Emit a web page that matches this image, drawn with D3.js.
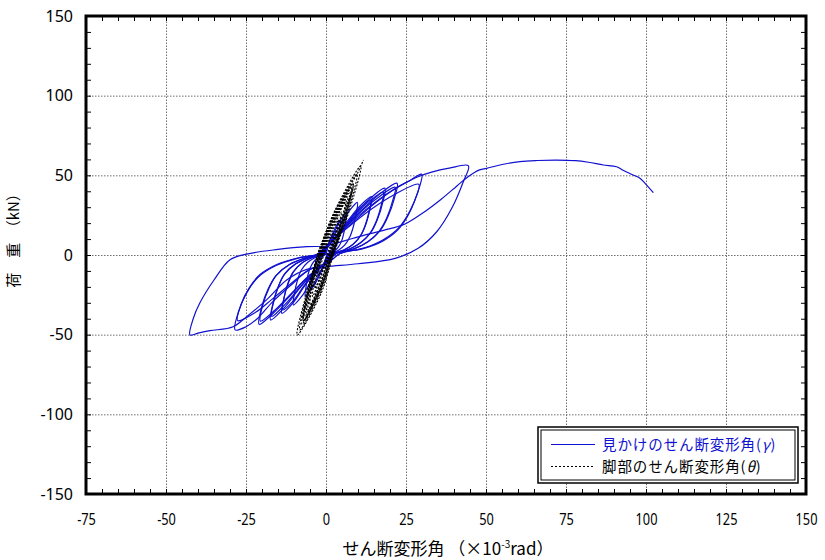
<!DOCTYPE html>
<html>
<head>
<meta charset="utf-8">
<script src="https://cdn.jsdelivr.net/npm/d3@7"></script>
<style>
  body { margin: 0; background: #fff; }
  svg { display: block; }
</style>
</head>
<body>
<svg id="chart" width="825" height="560"></svg>
<script>
// ---- axis ticks ----
const xTicks = [-75, -50, -25, 0, 25, 50, 75, 100, 125, 150];
const yTicks = [-150, -100, -50, 0, 50, 100, 150];
const xMinorStep = 5;
const yMinorStep = 10;

// ---- apparent shear deformation angle γ (x: 10^-3 rad, y: kN), one array per cycle ----
const gammaLoop1 = [[0,0],[0.7,6],[1.5,10.5],[2.5,14],
  [2.4,10.9],[2.2,7.7],[1.9,4.9],[1.5,2.7],[1.0,1.3],[0.4,0.3],[0,-1.5],
  [-0.6,-5],[-1.4,-9.5],[-2.5,-13],
  [-2.4,-9.8],[-2.2,-6.5],[-1.9,-3.9],[-1.4,-1.8],[-0.75,-0.5],[-0.25,0.3],[0,1.5]];
const gammaLoop2 = [[0,1.5],[1,8],[2.2,14],[3.4,19],[4.5,22],
  [4.3,17.2],[4.0,12.1],[3.5,7.7],[2.7,4.2],[1.8,2],[0.7,0.4],[0,-2.5],
  [-1,-8],[-2.2,-13.5],[-3.4,-18],[-4.5,-21],
  [-4.3,-15.8],[-3.9,-10.5],[-3.4,-6.3],[-2.5,-2.9],[-1.35,-0.8],[-0.45,0.5],[0,2.5]];
const gammaLoop3 = [[0,2.5],[1.5,10],[3.2,17],[4.9,23],[6.5,27],
  [6.2,21],[5.7,14.9],[5,9.5],[3.9,5.1],[2.6,2.4],[1,0.5],[0,-3],
  [-1.5,-9.5],[-3.2,-16],[-4.9,-22],[-6.5,-26],
  [-6.2,-19.5],[-5.7,-13],[-4.9,-7.8],[-3.6,-3.6],[-1.95,-1],[-0.65,0.5],[0,3]];
const gammaLoop4 = [[0,3],[2.4,12],[4.9,20],[7.4,28],[9.8,33],
  [9.4,25.7],[8.6,18.2],[7.5,11.6],[5.9,6.3],[3.9,3],[1.5,0.6],[0,-3.5],
  [-2.5,-10],[-5.1,-18],[-7.6,-26],[-10.2,-31.4],
  [-9.8,-23.6],[-8.9,-15.7],[-7.7,-9.4],[-5.6,-4.4],[-3.1,-1.3],[-1,0.5],[0,3.5]];
const gammaLoop5 = [[0,3.5],[3.5,13],[7,22],[10.7,31],[14.3,36.6],
  [13.7,28.5],[12.6,20.1],[11,12.8],[8.6,7],[5.7,3.3],[2.1,0.7],[0,-4],
  [-3.4,-11],[-6.9,-20],[-10.3,-30],[-13.8,-36.6],
  [-13.2,-27.5],[-12,-18.3],[-10.4,-11],[-7.6,-5.1],[-4.1,-1.5],[-1.4,0.5],[0,4]];
const gammaLoop5b = [[0,4],[3.5,12.5],[7,21],[10.5,29.5],[14,34.5],
  [13.4,26.9],[12.3,19],[10.8,12.1],[8.4,6.6],[5.6,3.1],[2.1,0.7],[0,-4.2],
  [-3.4,-10.5],[-6.8,-19],[-10.1,-28.5],[-13.5,-34.5],
  [-13,-25.9],[-11.7,-17.3],[-10.1,-10.4],[-7.4,-4.8],[-4.05,-1.4],[-1.35,0.5],[0,4.2]];
const gammaLoop6 = [[0,4.2],[4.6,15],[9.2,26],[13.8,35.5],[18.4,41.9],
  [17.7,32.7],[16.2,23],[14.2,14.7],[11,8],[7.4,3.8],[2.8,0.8],[0,-4.5],
  [-4.3,-12],[-8.7,-22],[-13,-33],[-17.3,-40.8],
  [-16.6,-30.6],[-15,-20.4],[-13,-12.2],[-9.5,-5.7],[-5.2,-1.6],[-1.7,0.6],[0,4.5]];
const gammaLoop6b = [[0,4.5],[4.5,14],[9,24.5],[13.4,33.5],[17.9,39.5],
  [17.2,30.8],[15.8,21.7],[13.8,13.8],[10.7,7.5],[7.2,3.6],[2.7,0.8],[0,-4.8],
  [-4.2,-11.5],[-8.5,-21],[-12.8,-31],[-17,-38.5],
  [-16.3,-28.9],[-14.8,-19.3],[-12.8,-11.6],[-9.4,-5.4],[-5.1,-1.5],[-1.7,0.6],[0,4.8]];
const gammaLoop7 = [[0,4.8],[5.5,16.5],[11.1,28],[16.6,38],[22.2,45],
  [21.3,35.1],[19.5,24.8],[17.1,15.8],[13.3,8.6],[8.9,4],[3.3,0.9],[0,-5],
  [-5.2,-13],[-10.5,-24],[-15.7,-35],[-20.9,-43.5],
  [-20.1,-32.6],[-18.2,-21.8],[-15.7,-13.1],[-11.5,-6.1],[-6.3,-1.7],[-2.1,0.6],[0,5]];
const gammaLoop7b = [[0,5],[5.4,16],[10.8,27],[16.2,36],[21.6,42.5],
  [20.7,33.2],[19,23.4],[16.6,14.9],[13,8.1],[8.6,3.8],[3.2,0.9],[0,-5.2],
  [-5.1,-12.5],[-10.3,-23],[-15.4,-33.5],[-20.5,-41.5],
  [-19.7,-31.1],[-17.8,-20.8],[-15.4,-12.5],[-11.3,-5.8],[-6.2,-1.7],[-2,0.6],[0,5.2]];
const gammaLoop8 = [[0,5.2],[7,19],[14,31],[21,41],[26,46.5],[29.9,50.7],
  [28.7,39.5],[26.3,27.9],[23,17.7],[17.9,9.6],[12,4.5],[4.5,1],[0,-5.8],
  [-5,-9],[-11,-19],[-17,-30],[-21.5,-40],[-25,-45],[-28.4,-47],
  [-27.3,-35.3],[-24.7,-23.5],[-21.3,-14.1],[-15.6,-6.6],[-8.5,-1.9],[-2.8,0.5],[0,5.5]];
const gammaLoop8b = [[0,5.5],[7,17.5],[14,28.5],[21,37.5],[29,44.4],
  [27.8,34.6],[25.5,24.4],[22.3,15.5],[17.4,8.4],[11.6,4],[4.4,0.9],[0,-6],
  [-5,-9],[-11,-18],[-17,-28],[-22,-36],[-27.6,-41.2],
  [-26.5,-30.9],[-24,-20.6],[-20.7,-12.4],[-15.2,-5.8],[-8.3,-1.6],[-2.8,0.5],[0,5.6]];
const gammaLoop9 = [[0,5.6],[7,18],[15,32],[22,42],[28,48.5],[33,52],[38.5,54.5],[44.5,56],
  [42.9,46],[39.3,29.3],[34.6,14.6],[28.8,4.2],[21.6,-2.1],[10,-5.5],[0.2,-7.3],
  [-6,-9],[-12.3,-15.7],[-18.5,-28],[-24.8,-38.7],[-29,-45],[-36.25,-47.5],[-40,-49],[-42.5,-50.2],
  [-41.5,-40],[-39.4,-30],[-35,-15.7],[-30,-3],[-24.8,0.6],[-15,3.5],[-6,5.2],[0,5.5]];
const gammaFinal = [[0,5.5],[6,9],[12,12.5],[18,15.5],[24.7,19.5],[30,26],[36,35],[41,43.5],[44.3,49],[48,53.4],[50.2,54.4],
  [55,56.8],[60.6,58.6],[66,59.3],[72,59.6],[78,59.2],[82,58.2],[86.7,56.5],[90.8,55.4],[93,53],[96,50.2],[98,48.3],[99.7,45],[102.3,39.1]];

// ---- base shear deformation angle θ, one array per cycle ----
const thetaLoop1 = [[-0.7,0],[0.65,7],[2.3,14],[1.55,7],[0.3,0],[-0.75,-6.5],[-2.4,-13],[-1.65,-6.5],[-0.7,0]];
const thetaLoop2 = [[-1.0,0],[1.1,11],[3.85,22],[2.5,11],[0.6,0],[-1.2,-10.5],[-3.5,-21],[-2.6,-10.5],[-1.0,0]];
const thetaLoop3 = [[-1.2,0],[1.3,13.5],[4.85,27],[3.1,13.5],[0.8,0],[-1.5,-13],[-4.2,-26],[-3.3,-13],[-1.2,0]];
const thetaLoop4 = [[-1.5,0],[1.6,16.5],[6.1,33],[4.0,16.5],[1.1,0],[-1.5,-15.7],[-5.0,-31.4],[-3.9,-15.7],[-1.5,0]];
const thetaLoop5 = [[-1.8,0],[1.65,18.3],[6.85,36.6],[4.55,18.3],[1.4,0],[-1.6,-18.3],[-6.1,-36.6],[-4.5,-18.3],[-1.8,0]];
const thetaLoop5b = [[-1.6,0],[1.65,17],[6.3,34],[4.15,17],[1.2,0],[-1.65,-17.25],[-5.6,-34.5],[-4.15,-17.25],[-1.6,0]];
const thetaLoop6 = [[-2.1,0],[1.95,21],[7.9,41.9],[5.35,21],[1.7,0],[-1.7,-20.4],[-7.0,-40.8],[-5.1,-20.4],[-2.1,0]];
const thetaLoop6b = [[-1.9,0],[1.85,19.75],[7.45,39.5],[4.95,19.75],[1.5,0],[-1.65,-19.25],[-6.5,-38.5],[-4.75,-19.25],[-1.9,0]];
const thetaLoop7 = [[-2.3,0],[2.05,22.5],[8.5,45],[5.85,22.5],[1.9,0],[-1.7,-21.75],[-7.5,-43.5],[-5.5,-21.75],[-2.3,0]];
const thetaLoop7b = [[-2.2,0],[1.9,21.25],[8.0,42.5],[5.5,21.25],[1.8,0],[-1.65,-20.75],[-7.1,-41.5],[-5.25,-20.75],[-2.2,0]];
const thetaLoop8 = [[-2.5,0],[2.45,25.35],[9.7,50.7],[6.55,25.35],[2.1,0],[-1.75,-23.5],[-8.2,-47],[-5.85,-23.5],[-2.5,0]];
const thetaLoop8b = [[-2.3,0],[2.0,22.2],[8.4,44.4],[5.8,22.2],[1.9,0],[-1.5,-20.6],[-7.0,-41.2],[-5.3,-20.6],[-2.3,0]];
const thetaLoop9 = [[-2.7,0],[2.8,28],[10.9,56],[7.3,28],[2.3,0],[-1.75,-25.1],[-9.0,-50.2],[-6.25,-25.1],[-2.7,0]];
const thetaFinal = [[-2.7,0],[2.9,28],[8.0,45],[10.0,52],[11.7,59.6]];

const gammaSeries = [gammaLoop1, gammaLoop2, gammaLoop3, gammaLoop4, gammaLoop5, gammaLoop5b, gammaLoop6, gammaLoop6b,
  gammaLoop7, gammaLoop7b, gammaLoop8, gammaLoop8b, gammaLoop9, gammaFinal];
const thetaSeries = [thetaLoop1, thetaLoop2, thetaLoop3, thetaLoop4, thetaLoop5, thetaLoop5b, thetaLoop6, thetaLoop6b,
  thetaLoop7, thetaLoop7b, thetaLoop8, thetaLoop8b, thetaLoop9, thetaFinal];

const legendLabels = ["見かけのせん断変形角", "脚部のせん断変形角"];
const legendSymbols = ["γ", "θ"];

// ---- layout ----
const svg = d3.select("#chart");
const plot = { left: 86, right: 806, top: 16, bottom: 494 };
const x = d3.scaleLinear().domain([-75, 150]).range([plot.left, plot.right]);
const y = d3.scaleLinear().domain([-150, 150]).range([plot.bottom, plot.top]);
const blue = "#1010d0";
const jpFont = "'Noto Sans CJK JP', 'Noto Sans', sans-serif";
const numFmt = d => String(d);

svg.append("defs").append("clipPath").attr("id", "plotClip")
  .append("rect").attr("x", plot.left).attr("y", plot.top)
  .attr("width", plot.right - plot.left).attr("height", plot.bottom - plot.top);

// dotted grid at major ticks
svg.append("g").attr("transform", `translate(0,${plot.bottom})`)
  .call(d3.axisBottom(x).tickValues(xTicks.slice(1, -1)).tickSize(-(plot.bottom - plot.top)).tickFormat(""))
  .call(g => g.select(".domain").remove())
  .selectAll("line").attr("stroke", "#6e6e6e").attr("stroke-width", 1).attr("stroke-dasharray", "1.5,1.5");
svg.append("g").attr("transform", `translate(${plot.left},0)`)
  .call(d3.axisLeft(y).tickValues(yTicks.slice(1, -1)).tickSize(-(plot.right - plot.left)).tickFormat(""))
  .call(g => g.select(".domain").remove())
  .selectAll("line").attr("stroke", "#6e6e6e").attr("stroke-width", 1).attr("stroke-dasharray", "1.5,1.5");

// curves
const line = d3.line().x(d => x(d[0])).y(d => y(d[1])).curve(d3.curveCatmullRom.alpha(0.5));
const curves = svg.append("g").attr("clip-path", "url(#plotClip)");
curves.selectAll("path.gamma").data(gammaSeries).join("path")
  .attr("class", "gamma").attr("d", line)
  .attr("fill", "none").attr("stroke", blue).attr("stroke-width", 1.2);
curves.selectAll("path.theta").data(thetaSeries).join("path")
  .attr("class", "theta").attr("d", line)
  .attr("fill", "none").attr("stroke", "#000").attr("stroke-width", 1.1).attr("stroke-dasharray", "2,1.5");

// minor ticks on all four sides, pointing inward
const xMinor = d3.range(xTicks[0], xTicks[xTicks.length - 1] + 0.01, xMinorStep);
const yMinor = d3.range(yTicks[0], yTicks[yTicks.length - 1] + 0.01, yMinorStep);
const tickStyle = g => { g.select(".domain").remove(); g.selectAll("line").attr("stroke", "#000").attr("stroke-width", 1); };
svg.append("g").attr("transform", `translate(0,${plot.bottom})`)
  .call(d3.axisBottom(x).tickValues(xMinor).tickSize(-5).tickFormat("")).call(tickStyle);
svg.append("g").attr("transform", `translate(0,${plot.top})`)
  .call(d3.axisTop(x).tickValues(xMinor).tickSize(-5).tickFormat("")).call(tickStyle);
svg.append("g").attr("transform", `translate(${plot.left},0)`)
  .call(d3.axisLeft(y).tickValues(yMinor).tickSize(-5).tickFormat("")).call(tickStyle);
svg.append("g").attr("transform", `translate(${plot.right},0)`)
  .call(d3.axisRight(y).tickValues(yMinor).tickSize(-5).tickFormat("")).call(tickStyle);

// frame
svg.append("rect").attr("x", plot.left).attr("y", plot.top)
  .attr("width", plot.right - plot.left).attr("height", plot.bottom - plot.top)
  .attr("fill", "none").attr("stroke", "#000").attr("stroke-width", 3);

// tick labels
const xLab = svg.append("g").attr("transform", `translate(0,${plot.bottom})`)
  .call(d3.axisBottom(x).tickValues(xTicks).tickSize(0).tickPadding(20).tickFormat(numFmt));
xLab.select(".domain").remove();
xLab.selectAll("text").attr("font-family", "'Noto Sans', sans-serif").attr("font-size", 16)
  .attr("fill", "#000").attr("transform", "scale(0.8,1)");

const yLab = svg.append("g").attr("transform", `translate(${plot.left},0)`)
  .call(d3.axisLeft(y).tickValues(yTicks).tickSize(0).tickPadding(13).tickFormat(numFmt));
yLab.select(".domain").remove();
yLab.selectAll("text").attr("font-family", "'Noto Sans', sans-serif").attr("font-size", 16).attr("fill", "#000");

// axis titles
const xTitle = svg.append("text").attr("x", 448).attr("y", 555).attr("text-anchor", "middle")
  .attr("font-family", jpFont).attr("font-size", 17).attr("fill", "#000");
xTitle.append("tspan").text("せん断変形角 （×10");
xTitle.append("tspan").attr("font-size", 10).attr("dy", -7).text("-3");
xTitle.append("tspan").attr("dy", 7).text("rad）");

svg.append("text").attr("transform", "translate(14,237) rotate(-90)")
  .attr("text-anchor", "middle").attr("dy", "0.35em")
  .attr("font-family", jpFont).attr("font-size", 15).attr("fill", "#000")
  .text("荷　重　（kN）");

// legend
const lg = svg.append("g");
lg.append("rect").attr("x", 538).attr("y", 427).attr("width", 260).attr("height", 56)
  .attr("fill", "#fff").attr("stroke", "#000").attr("stroke-width", 1.5);
lg.append("rect").attr("x", 541).attr("y", 430).attr("width", 254).attr("height", 50)
  .attr("fill", "none").attr("stroke", "#000").attr("stroke-width", 1);
const legendColors = [blue, "#000"];
const legendDash = [null, "2,2"];
legendLabels.forEach((lab, i) => {
  const cy = 444.5 + i * 22;
  lg.append("line").attr("x1", 551).attr("x2", 595).attr("y1", cy).attr("y2", cy)
    .attr("stroke", legendColors[i]).attr("stroke-width", 1).attr("stroke-dasharray", legendDash[i]);
  const t = lg.append("text").attr("x", 602).attr("y", cy).attr("dy", "0.36em")
    .attr("font-family", jpFont).attr("font-size", 14.5).attr("letter-spacing", 0.9)
    .attr("fill", legendColors[i]);
  t.append("tspan").text(lab + "(");
  t.append("tspan").attr("font-style", "italic").text(legendSymbols[i]);
  t.append("tspan").text(")");
});
</script>
</body>
</html>
